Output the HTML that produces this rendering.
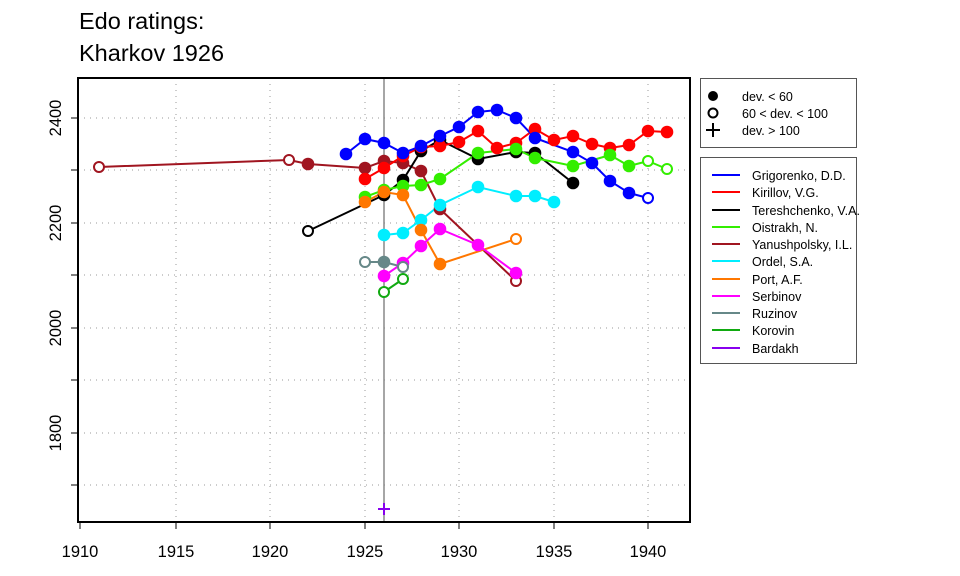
<!DOCTYPE html>
<html><head><meta charset="utf-8"><style>body{margin:0;background:#fff}svg{display:block;font-family:"Liberation Sans",sans-serif}</style></head><body>
<svg width="960" height="576" viewBox="0 0 960 576" xmlns="http://www.w3.org/2000/svg">
<text x="79" y="29" font-size="23.5">Edo ratings:</text>
<text x="79" y="61" font-size="23.5">Kharkov 1926</text>
<g stroke="#999" stroke-dasharray="1 5" stroke-width="1">
<line x1="78" x2="690" y1="118" y2="118"/><line x1="78" x2="690" y1="170" y2="170"/><line x1="78" x2="690" y1="223" y2="223"/><line x1="78" x2="690" y1="275" y2="275"/><line x1="78" x2="690" y1="328" y2="328"/><line x1="78" x2="690" y1="380" y2="380"/><line x1="78" x2="690" y1="433" y2="433"/><line x1="78" x2="690" y1="485" y2="485"/>
<line x1="176" x2="176" y1="78" y2="522"/><line x1="270" x2="270" y1="78" y2="522"/><line x1="365" x2="365" y1="78" y2="522"/><line x1="459" x2="459" y1="78" y2="522"/><line x1="554" x2="554" y1="78" y2="522"/><line x1="648" x2="648" y1="78" y2="522"/>
</g>
<line x1="384" x2="384" y1="78" y2="522" stroke="#888" stroke-width="1.5"/>
<g fill="none" stroke-width="2">
<polyline stroke="#a01520" points="99,167 289,160 308,164 365,168 384,161 403,163 421,171 440,209 516,281"/>
<polyline stroke="#000" points="308,231 384,195 403,180 421,151 440,140 478,159 516,152 535,153 573,183"/>
<polyline stroke="#ff0000" points="365,179 384,168 403,156 421,147 440,146 459,142 478,131 497,148 516,143 535,129 554,140 573,136 592,144 610,148 629,145 648,131 667,132"/>
<polyline stroke="#0000ff" points="346,154 365,139 384,143 403,153 421,146 440,136 459,127 478,112 497,110 516,118 535,138 573,152 592,163 610,181 629,193 648,198"/>
<polyline stroke="#33ee00" points="365,197 384,190 403,186 421,185 440,179 478,153 516,149 535,158 573,166 610,155 629,166 648,161 667,169"/>
<polyline stroke="#00eeff" points="384,235 403,233 421,220 440,205 478,187 516,196 535,196 554,202"/>
<polyline stroke="#ff7700" points="365,202 384,192 403,195 421,230 440,264 516,239"/>
<polyline stroke="#ff00ff" points="384,276 403,263 421,246 440,229 478,245 516,273"/>
<polyline stroke="#668888" points="365,262 384,262 403,267"/>
<polyline stroke="#11aa11" points="384,292 403,279"/>
</g>
<g stroke-width="2">
<g fill="#a01520" stroke="#a01520"><circle cx="308" cy="164" r="5.3"/><circle cx="365" cy="168" r="5.3"/><circle cx="384" cy="161" r="5.3"/><circle cx="403" cy="163" r="5.3"/><circle cx="421" cy="171" r="5.3"/><circle cx="440" cy="209" r="5.3"/></g>
<g fill="#fff" stroke="#a01520"><circle cx="99" cy="167" r="5"/><circle cx="289" cy="160" r="5"/><circle cx="516" cy="281" r="5"/></g>
<g fill="#000" stroke="#000"><circle cx="384" cy="195" r="5.3"/><circle cx="403" cy="180" r="5.3"/><circle cx="421" cy="151" r="5.3"/><circle cx="440" cy="140" r="5.3"/><circle cx="478" cy="159" r="5.3"/><circle cx="516" cy="152" r="5.3"/><circle cx="535" cy="153" r="5.3"/><circle cx="573" cy="183" r="5.3"/></g>
<circle cx="308" cy="231" r="5" fill="#fff" stroke="#000"/>
<g fill="#ff0000" stroke="#ff0000"><circle cx="365" cy="179" r="5.3"/><circle cx="384" cy="168" r="5.3"/><circle cx="403" cy="156" r="5.3"/><circle cx="421" cy="147" r="5.3"/><circle cx="440" cy="146" r="5.3"/><circle cx="459" cy="142" r="5.3"/><circle cx="478" cy="131" r="5.3"/><circle cx="497" cy="148" r="5.3"/><circle cx="516" cy="143" r="5.3"/><circle cx="535" cy="129" r="5.3"/><circle cx="554" cy="140" r="5.3"/><circle cx="573" cy="136" r="5.3"/><circle cx="592" cy="144" r="5.3"/><circle cx="610" cy="148" r="5.3"/><circle cx="629" cy="145" r="5.3"/><circle cx="648" cy="131" r="5.3"/><circle cx="667" cy="132" r="5.3"/></g>
<g fill="#0000ff" stroke="#0000ff"><circle cx="346" cy="154" r="5.3"/><circle cx="365" cy="139" r="5.3"/><circle cx="384" cy="143" r="5.3"/><circle cx="403" cy="153" r="5.3"/><circle cx="421" cy="146" r="5.3"/><circle cx="440" cy="136" r="5.3"/><circle cx="459" cy="127" r="5.3"/><circle cx="478" cy="112" r="5.3"/><circle cx="497" cy="110" r="5.3"/><circle cx="516" cy="118" r="5.3"/><circle cx="535" cy="138" r="5.3"/><circle cx="573" cy="152" r="5.3"/><circle cx="592" cy="163" r="5.3"/><circle cx="610" cy="181" r="5.3"/><circle cx="629" cy="193" r="5.3"/></g>
<circle cx="648" cy="198" r="5" fill="#fff" stroke="#0000ff"/>
<g fill="#33ee00" stroke="#33ee00"><circle cx="365" cy="197" r="5.3"/><circle cx="384" cy="190" r="5.3"/><circle cx="403" cy="186" r="5.3"/><circle cx="421" cy="185" r="5.3"/><circle cx="440" cy="179" r="5.3"/><circle cx="478" cy="153" r="5.3"/><circle cx="516" cy="149" r="5.3"/><circle cx="535" cy="158" r="5.3"/><circle cx="573" cy="166" r="5.3"/><circle cx="610" cy="155" r="5.3"/><circle cx="629" cy="166" r="5.3"/></g>
<g fill="#fff" stroke="#33ee00"><circle cx="648" cy="161" r="5"/><circle cx="667" cy="169" r="5"/></g>
<g fill="#00eeff" stroke="#00eeff"><circle cx="384" cy="235" r="5.3"/><circle cx="403" cy="233" r="5.3"/><circle cx="421" cy="220" r="5.3"/><circle cx="440" cy="205" r="5.3"/><circle cx="478" cy="187" r="5.3"/><circle cx="516" cy="196" r="5.3"/><circle cx="535" cy="196" r="5.3"/><circle cx="554" cy="202" r="5.3"/></g>
<g fill="#ff7700" stroke="#ff7700"><circle cx="365" cy="202" r="5.3"/><circle cx="384" cy="192" r="5.3"/><circle cx="403" cy="195" r="5.3"/><circle cx="421" cy="230" r="5.3"/><circle cx="440" cy="264" r="5.3"/></g>
<circle cx="516" cy="239" r="5" fill="#fff" stroke="#ff7700"/>
<g fill="#ff00ff" stroke="#ff00ff"><circle cx="384" cy="276" r="5.3"/><circle cx="403" cy="263" r="5.3"/><circle cx="421" cy="246" r="5.3"/><circle cx="440" cy="229" r="5.3"/><circle cx="478" cy="245" r="5.3"/><circle cx="516" cy="273" r="5.3"/></g>
<circle cx="365" cy="262" r="5" fill="#fff" stroke="#668888"/><circle cx="384" cy="262" r="5.3" fill="#668888" stroke="#668888"/><circle cx="403" cy="267" r="5" fill="#fff" stroke="#668888"/>
<circle cx="384" cy="292" r="5" fill="#fff" stroke="#11aa11"/><circle cx="403" cy="279" r="5" fill="#fff" stroke="#11aa11"/>
<path d="M378 509h12M384 503v12" stroke="#8800ee"/>
</g>
<rect x="78" y="78" width="612" height="444" fill="none" stroke="#000" stroke-width="2"/>
<g stroke="#000" stroke-width="1">
<path d="M80 522v7M176 522v7M270 522v7M365 522v7M459 522v7M554 522v7M648 522v7"/>
<path d="M78 118h-7M78 170h-7M78 223h-7M78 275h-7M78 328h-7M78 380h-7M78 433h-7M78 485h-7"/>
</g>
<g font-size="16.5" text-anchor="middle">
<text x="80" y="557">1910</text><text x="176" y="557">1915</text><text x="270" y="557">1920</text><text x="365" y="557">1925</text><text x="459" y="557">1930</text><text x="554" y="557">1935</text><text x="648" y="557">1940</text>
<text transform="translate(61,118) rotate(-90)">2400</text><text transform="translate(61,223) rotate(-90)">2200</text><text transform="translate(61,328) rotate(-90)">2000</text><text transform="translate(61,433) rotate(-90)">1800</text>
</g>
<rect x="700.5" y="78.5" width="156" height="69" fill="#fff" stroke="#555"/>
<circle cx="713" cy="96" r="5"/><circle cx="713" cy="113" r="4.5" fill="none" stroke="#000" stroke-width="2"/><path d="M706 130h14M713 123v14" stroke="#000" stroke-width="2"/>
<g font-size="12.5"><text x="742" y="101">dev. &lt; 60</text><text x="742" y="118">60 &lt; dev. &lt; 100</text><text x="742" y="135">dev. &gt; 100</text></g>
<rect x="700.5" y="157.5" width="156" height="206" fill="#fff" stroke="#555"/>
<g stroke-width="2">
<line x1="712" x2="740" y1="175" y2="175" stroke="#0000ff"/><line x1="712" x2="740" y1="192" y2="192" stroke="#ff0000"/><line x1="712" x2="740" y1="210" y2="210" stroke="#000"/><line x1="712" x2="740" y1="227" y2="227" stroke="#33ee00"/><line x1="712" x2="740" y1="244" y2="244" stroke="#a01520"/><line x1="712" x2="740" y1="261" y2="261" stroke="#00eeff"/><line x1="712" x2="740" y1="279" y2="279" stroke="#ff7700"/><line x1="712" x2="740" y1="296" y2="296" stroke="#ff00ff"/><line x1="712" x2="740" y1="313" y2="313" stroke="#668888"/><line x1="712" x2="740" y1="330" y2="330" stroke="#11aa11"/><line x1="712" x2="740" y1="348" y2="348" stroke="#8800ee"/>
</g>
<g font-size="12.5">
<text x="752" y="180">Grigorenko, D.D.</text><text x="752" y="197">Kirillov, V.G.</text><text x="752" y="215" textLength="108" lengthAdjust="spacingAndGlyphs">Tereshchenko, V.A.</text><text x="752" y="232">Oistrakh, N.</text><text x="752" y="249">Yanushpolsky, I.L.</text><text x="752" y="266">Ordel, S.A.</text><text x="752" y="284">Port, A.F.</text><text x="752" y="301">Serbinov</text><text x="752" y="318">Ruzinov</text><text x="752" y="335">Korovin</text><text x="752" y="353">Bardakh</text>
</g>
</svg>
</body></html>
